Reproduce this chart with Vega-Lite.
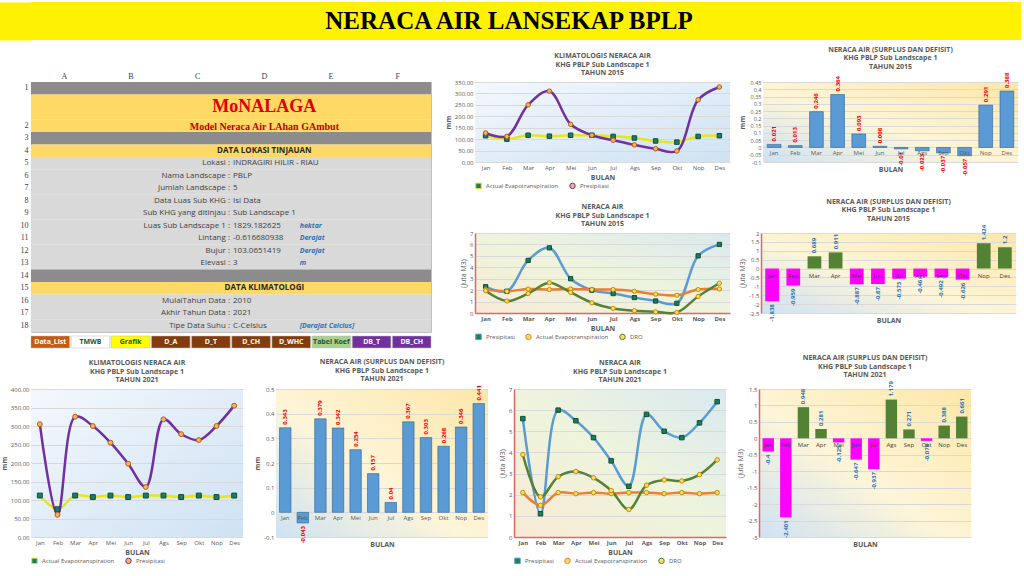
{
"$schema": "https://vega.github.io/schema/vega-lite/v6.json",
"background": "white",
"padding": {"left": 0, "right": 0, "top": 2, "bottom": 2},
"spacing": 5,
"resolve": {"scale": {"color": "independent", "fill": "independent", "stroke": "independent", "shape": "independent"}},
"vconcat": [
  {
    "width": 990, "height": 38,
    "view": {"fill": "#fff200", "stroke": null},
    "data": {"values": [{"judul": "NERACA AIR LANSEKAP BPLP"}]},
    "mark": {"type": "text", "font": "Liberation Serif", "fontSize": 25, "fontWeight": "bold", "color": "#000000", "dx": -17},
    "encoding": {
      "text": {"field": "judul"},
      "y": {"datum": 0.5, "type": "quantitative", "scale": {"domain": [0, 1]}, "axis": {"title": null, "labels": false, "ticks": false, "grid": false, "domainColor": "#fff200", "domainWidth": 35, "offset": 17, "domainCap": "butt", "minExtent": 0}}
    }
  },
  {
    "spacing": 12,
    "resolve": {"scale": {"color": "independent", "fill": "independent", "stroke": "independent", "shape": "independent"}},
    "hconcat": [
      {
        "spacing": 2,
        "resolve": {"scale": {"color": "independent", "fill": "independent", "stroke": "independent", "shape": "independent"}},
        "vconcat": [
          {
            "width": 400, "height": 250,
            "data": {"name": "sheet"},
            "view": {"fill": "#f2f2f2", "stroke": "#bfbfbf"},
            "encoding": {"y": {"field": "row", "type": "ordinal", "sort": null, "scale": {"paddingInner": 0, "paddingOuter": 0}, "axis": {"title": null, "labelExpr": "datum.label == '2a' || datum.label == '2b' ? '' : datum.label", "labelFont": "Liberation Serif", "labelFontSize": 8, "labelColor": "#404040", "ticks": false, "domain": false, "grid": false, "labelPadding": 3}}},
            "layer": [
              {"mark": {"type": "rect"}, "encoding": {"color": {"field": "kind", "type": "nominal", "scale": {"domain": ["sep", "title", "title2", "header", "data"], "range": ["#8c8c8c", "#ffd966", "#ffd966", "#ffd966", "#d9d9d9"]}, "legend": null}}},
              {"transform": [{"filter": "datum.kind == 'data'"}], "mark": {"type": "text", "align": "right", "dx": -1, "fontSize": 8, "color": "#404040"},
               "encoding": {"x": {"datum": "D", "type": "nominal", "bandPosition": 0, "scale": {"type": "band", "domain": ["A", "B", "C", "D", "E", "F"], "paddingInner": 0, "paddingOuter": 0}, "axis": {"orient": "top", "title": null, "labelAngle": 0, "labelFont": "Liberation Serif", "labelFontSize": 8, "labelColor": "#404040", "ticks": false, "domain": false, "grid": false, "labelPadding": 2}}, "text": {"field": "label"}}},
              {"transform": [{"filter": "datum.kind == 'data'"}], "mark": {"type": "text", "align": "left", "dx": 2, "fontSize": 8, "color": "#404040"},
               "encoding": {"x": {"datum": "D", "type": "nominal", "bandPosition": 0}, "text": {"field": "value"}}},
              {"transform": [{"filter": "datum.unit"}], "mark": {"type": "text", "align": "left", "dx": 2, "fontSize": 7, "fontStyle": "italic", "fontWeight": "bold", "color": "#2e75b6"},
               "encoding": {"x": {"datum": "E", "type": "nominal", "bandPosition": 0}, "text": {"field": "unit"}}},
              {"transform": [{"filter": "datum.kind == 'header'"}], "mark": {"type": "text", "align": "center", "fontSize": 8, "fontWeight": "bold", "color": "#262626"},
               "encoding": {"x": {"datum": "D", "type": "nominal", "bandPosition": 0.5}, "text": {"field": "label"}}},
              {"transform": [{"filter": "datum.kind == 'title' && datum.label"}], "mark": {"type": "text", "align": "center", "baseline": "middle", "dy": 6, "font": "Liberation Serif", "fontSize": 18, "fontWeight": "bold", "color": "#e00000"},
               "encoding": {"x": {"datum": "D", "type": "nominal", "bandPosition": 0.5}, "text": {"field": "label"}}},
              {"transform": [{"filter": "datum.kind == 'title2'"}], "mark": {"type": "text", "align": "center", "dy": 1, "font": "Liberation Serif", "fontSize": 10, "fontWeight": "bold", "color": "#c00000"},
               "encoding": {"x": {"datum": "D", "type": "nominal", "bandPosition": 0.5}, "text": {"field": "label"}}}
            ]
          },
          {
            "width": 400, "height": 12,
            "data": {"name": "tabs"},
            "view": {"fill": "#f2f2f2", "stroke": null},
            "encoding": {"x": {"field": "tab", "type": "nominal", "sort": null, "scale": {"paddingInner": 0.04, "paddingOuter": 0}, "axis": null}},
            "layer": [
              {"mark": {"type": "bar", "stroke": "#bfbfbf", "strokeWidth": 0.5}, "encoding": {"color": {"field": "tab", "type": "nominal", "scale": {"domain": ["Data_List", "TMWB", "Grafik", "D_A", "D_T", "D_CH", "D_WHC", "Tabel Koef", "DB_T", "DB_CH"], "range": ["#c55a11", "#ffffff", "#ffff00", "#843c0c", "#843c0c", "#843c0c", "#843c0c", "#a9d08e", "#7030a0", "#7030a0"]}, "legend": null}}},
              {"mark": {"type": "text", "fontSize": 7, "fontWeight": "bold"}, "encoding": {"text": {"field": "tab"}, "color": {"condition": {"test": "datum.tab == 'TMWB' || datum.tab == 'Grafik' || datum.tab == 'Tabel Koef'", "value": "#1e5631"}, "value": "#ffffff"}}}
            ]
          }
        ]
      },
      {
        "spacing": 6,
        "resolve": {"scale": {"color": "independent", "fill": "independent", "stroke": "independent", "shape": "independent"}},
        "vconcat": [
          {
            "spacing": 8,
            "resolve": {"scale": {"color": "independent", "fill": "independent", "stroke": "independent", "shape": "independent"}},
            "hconcat": [
              {
                "width": 255, "height": 80,
                "title": {"text": ["KLIMATOLOGIS NERACA AIR", "KHG PBLP Sub Landscape 1", "TAHUN 2015"]},
                "view": {"fill": {"gradient": "linear", "x1": 0, "y1": 0, "x2": 1, "y2": 1, "stops": [{"offset": 0, "color": "#f4f8fd"}, {"offset": 1, "color": "#cfe2f3"}]}, "stroke": null},
                "data": {"name": "klim"},
                "transform": [{"filter": "datum.tahun == 2015"}, {"fold": ["Actual Evapotranspiration", "Presipitasi"], "as": ["seri", "nilai"]}],
                "encoding": {
                  "x": {"field": "bulan", "type": "ordinal", "sort": ["Jan", "Feb", "Mar", "Apr", "Mei", "Jun", "Jul", "Ags", "Sep", "Okt", "Nop", "Des"], "scale": {"type": "point", "padding": 0.5}, "axis": {"title": "BULAN", "labelAngle": 0, "grid": false, "ticks": false, "domain": false}},
                  "y": {"field": "nilai", "type": "quantitative", "scale": {"domain": [0, 350]}, "axis": {"title": "mm", "format": ".2f", "values": [0, 50, 100, 150, 200, 250, 300, 350], "ticks": false, "domain": false}}
                },
                "layer": [
                  {"mark": {"type": "line", "interpolate": "catmull-rom", "strokeWidth": 2.5}, "encoding": {"color": {"field": "seri", "type": "nominal", "scale": {"domain": ["Actual Evapotranspiration", "Presipitasi"], "range": ["#e6e619", "#7030a0"]}, "legend": {"orient": "bottom", "direction": "horizontal", "title": null}}}},
                  {"mark": {"type": "point", "filled": true, "size": 20, "strokeWidth": 1, "opacity": 1}, "encoding": {
                    "shape": {"field": "seri", "type": "nominal", "scale": {"domain": ["Actual Evapotranspiration", "Presipitasi"], "range": ["square", "circle"]}, "legend": null},
                    "fill": {"field": "seri", "type": "nominal", "scale": {"domain": ["Actual Evapotranspiration", "Presipitasi"], "range": ["#1e7b6b", "#f6b26b"]}, "legend": null},
                    "stroke": {"field": "seri", "type": "nominal", "scale": {"domain": ["Actual Evapotranspiration", "Presipitasi"], "range": ["#0f4d40", "#b45f06"]}, "legend": null}}}
                ]
              },
              {
                "width": 255, "height": 80,
                "title": {"text": ["NERACA AIR (SURPLUS DAN DEFISIT)", "KHG PBLP Sub Landscape 1", "TAHUN 2015"]},
                "view": {"fill": {"gradient": "linear", "x1": 0, "y1": 1, "x2": 1, "y2": 0, "stops": [{"offset": 0, "color": "#cfe2f3"}, {"offset": 0.45, "color": "#fdf5d8"}, {"offset": 1, "color": "#fde7a8"}]}, "stroke": null},
                "data": {"name": "smm"},
                "transform": [{"filter": "datum.tahun == 2015"}],
                "encoding": {
                  "x": {"field": "bulan", "type": "ordinal", "sort": ["Jan", "Feb", "Mar", "Apr", "Mei", "Jun", "Jul", "Ags", "Sep", "Okt", "Nop", "Des"], "scale": {"paddingInner": 0.35, "paddingOuter": 0.2}, "axis": {"title": "BULAN", "labels": false, "ticks": false, "domain": false}},
                  "y": {"field": "v", "type": "quantitative", "scale": {"domain": [-0.1, 0.45], "nice": false}, "axis": {"title": "mm", "format": "~g", "values": [-0.1, -0.05, 0, 0.05, 0.1, 0.15, 0.2, 0.25, 0.3, 0.35, 0.4, 0.45], "labelOverlap": false, "labelFontSize": 5.5, "ticks": false, "domain": false, "grid": true}}
                },
                "layer": [
                  {"mark": {"type": "bar", "color": "#5b9bd5", "stroke": "#2f5f8f", "strokeWidth": 0.6}},
                  {"mark": {"type": "rule", "color": "#c00000", "strokeWidth": 1}, "encoding": {"y": {"datum": 0}}},
                  {"transform": [{"filter": "datum.v >= 0"}], "mark": {"type": "text", "angle": 270, "align": "left", "baseline": "middle", "dx": 3, "fontSize": 6, "fontWeight": "bold", "color": "#ff0000"}, "encoding": {"text": {"field": "v", "type": "quantitative", "format": "~g"}}},
                  {"transform": [{"filter": "datum.v < 0"}], "mark": {"type": "text", "angle": 270, "align": "right", "baseline": "middle", "dx": -3, "fontSize": 6, "fontWeight": "bold", "color": "#ff0000"}, "encoding": {"text": {"field": "v", "type": "quantitative", "format": "~g"}}},
                  {"mark": {"type": "text", "baseline": "top", "dy": 3, "fontSize": 6, "color": "#595959"}, "encoding": {"y": {"datum": 0}, "text": {"field": "bulan"}}}
                ]
              }
            ]
          },
          {
            "spacing": 8,
            "resolve": {"scale": {"color": "independent", "fill": "independent", "stroke": "independent", "shape": "independent"}},
            "hconcat": [
              {
                "width": 255, "height": 80,
                "title": {"text": ["NERACA AIR", "KHG PBLP Sub Landscape 1", "TAHUN 2015"]},
                "view": {"fill": {"gradient": "linear", "x1": 0, "y1": 1, "x2": 1, "y2": 0, "stops": [{"offset": 0, "color": "#f8ead6"}, {"offset": 0.5, "color": "#eef4dc"}, {"offset": 1, "color": "#d9e9f0"}]}, "stroke": null},
                "data": {"name": "neraca"},
                "transform": [{"filter": "datum.tahun == 2015"}, {"fold": ["Presipitasi", "Actual Evapotranspiration", "DRO"], "as": ["seri", "nilai"]}],
                "encoding": {
                  "x": {"field": "bulan", "type": "ordinal", "sort": ["Jan", "Feb", "Mar", "Apr", "Mei", "Jun", "Jul", "Ags", "Sep", "Okt", "Nop", "Des"], "scale": {"type": "point", "padding": 0.5}, "axis": {"title": "BULAN", "labelAngle": 0, "grid": false, "ticks": false, "domainColor": "#e06666", "domainWidth": 1.5, "labelFontWeight": "bold"}},
                  "y": {"field": "nilai", "type": "quantitative", "scale": {"domain": [0, 7]}, "axis": {"title": "(Juta M3)", "titleFontWeight": "normal", "values": [0, 1, 2, 3, 4, 5, 6, 7], "ticks": false, "domainColor": "#e06666", "domainWidth": 1.5}}
                },
                "layer": [
                  {"mark": {"type": "line", "interpolate": "catmull-rom", "strokeWidth": 2.5}, "encoding": {"color": {"field": "seri", "type": "nominal", "scale": {"domain": ["Presipitasi", "Actual Evapotranspiration", "DRO"], "range": ["#5b9bd5", "#ed7d31", "#548235"]}, "legend": {"orient": "bottom", "direction": "horizontal", "title": null}}}},
                  {"mark": {"type": "point", "filled": true, "size": 18, "strokeWidth": 1, "opacity": 1}, "encoding": {
                    "shape": {"field": "seri", "type": "nominal", "scale": {"domain": ["Presipitasi", "Actual Evapotranspiration", "DRO"], "range": ["square", "circle", "circle"]}, "legend": null},
                    "fill": {"field": "seri", "type": "nominal", "scale": {"domain": ["Presipitasi", "Actual Evapotranspiration", "DRO"], "range": ["#1e7b5b", "#ffd966", "#ffd966"]}, "legend": null},
                    "stroke": {"field": "seri", "type": "nominal", "scale": {"domain": ["Presipitasi", "Actual Evapotranspiration", "DRO"], "range": ["#0f5132", "#bf9000", "#bf9000"]}, "legend": null}}}
                ]
              },
              {
                "width": 255, "height": 80,
                "title": {"text": ["NERACA AIR (SURPLUS DAN DEFISIT)", "KHG PBLP Sub Landscape 1", "TAHUN 2015"]},
                "view": {"fill": {"gradient": "linear", "x1": 0, "y1": 1, "x2": 1, "y2": 0, "stops": [{"offset": 0, "color": "#cfe2f3"}, {"offset": 0.45, "color": "#fdf5d8"}, {"offset": 1, "color": "#fde7a8"}]}, "stroke": null},
                "data": {"name": "sm3"},
                "transform": [{"filter": "datum.tahun == 2015"}],
                "encoding": {
                  "x": {"field": "bulan", "type": "ordinal", "sort": ["Jan", "Feb", "Mar", "Apr", "Mei", "Jun", "Jul", "Ags", "Sep", "Okt", "Nop", "Des"], "scale": {"paddingInner": 0.35, "paddingOuter": 0.2}, "axis": {"title": "BULAN", "labels": false, "ticks": false, "domain": false}},
                  "y": {"field": "v", "type": "quantitative", "scale": {"domain": [-2.5, 2], "nice": false}, "axis": {"title": "(Juta M3)", "titleFontWeight": "normal", "format": "~g", "values": [-2.5, -2, -1.5, -1, -0.5, 0, 0.5, 1, 1.5, 2], "labelOverlap": false, "ticks": false, "grid": true, "domainColor": "#e06666", "domainWidth": 1.5}}
                },
                "layer": [
                  {"mark": {"type": "bar"}, "encoding": {"color": {"condition": {"test": "datum.v >= 0", "value": "#548235"}, "value": "#ff00ff"}}},
                  {"mark": {"type": "rule", "color": "#c0504d", "strokeWidth": 1.2}, "encoding": {"y": {"datum": 0}}},
                  {"transform": [{"filter": "datum.v >= 0"}], "mark": {"type": "text", "angle": 270, "align": "left", "baseline": "middle", "dx": 3, "fontSize": 6, "fontWeight": "bold", "color": "#2e75b6"}, "encoding": {"text": {"field": "v", "type": "quantitative", "format": "~g"}}},
                  {"transform": [{"filter": "datum.v < 0"}], "mark": {"type": "text", "angle": 270, "align": "right", "baseline": "middle", "dx": -3, "fontSize": 6, "fontWeight": "bold", "color": "#2e75b6"}, "encoding": {"text": {"field": "v", "type": "quantitative", "format": "~g"}}},
                  {"mark": {"type": "text", "baseline": "top", "dy": 4, "fontSize": 6, "color": "#404040"}, "encoding": {"y": {"datum": 0}, "text": {"field": "bulan"}}}
                ]
              }
            ]
          }
        ]
      }
    ]
  },
  {
    "spacing": 10,
    "resolve": {"scale": {"color": "independent", "fill": "independent", "stroke": "independent", "shape": "independent"}},
    "hconcat": [
      {
        "width": 212, "height": 148,
        "title": {"text": ["KLIMATOLOGIS NERACA AIR", "KHG PBLP Sub Landscape 1", "TAHUN 2021"]},
        "view": {"fill": {"gradient": "linear", "x1": 0, "y1": 0, "x2": 1, "y2": 1, "stops": [{"offset": 0, "color": "#f4f8fd"}, {"offset": 1, "color": "#cfe2f3"}]}, "stroke": null},
        "data": {"name": "klim"},
        "transform": [{"filter": "datum.tahun == 2021"}, {"fold": ["Actual Evapotranspiration", "Presipitasi"], "as": ["seri", "nilai"]}],
        "encoding": {
          "x": {"field": "bulan", "type": "ordinal", "sort": ["Jan", "Feb", "Mar", "Apr", "Mei", "Jun", "Jul", "Ags", "Sep", "Okt", "Nop", "Des"], "scale": {"type": "point", "padding": 0.5}, "axis": {"title": "BULAN", "labelAngle": 0, "grid": false, "ticks": false, "domain": false}},
          "y": {"field": "nilai", "type": "quantitative", "scale": {"domain": [0, 400]}, "axis": {"title": "mm", "format": ".2f", "values": [0, 50, 100, 150, 200, 250, 300, 350, 400], "ticks": false, "domain": false}}
        },
        "layer": [
          {"mark": {"type": "line", "interpolate": "catmull-rom", "strokeWidth": 2.5}, "encoding": {"color": {"field": "seri", "type": "nominal", "scale": {"domain": ["Actual Evapotranspiration", "Presipitasi"], "range": ["#e6e619", "#7030a0"]}, "legend": {"orient": "bottom", "direction": "horizontal", "title": null}}}},
          {"mark": {"type": "point", "filled": true, "size": 24, "strokeWidth": 1, "opacity": 1}, "encoding": {
            "shape": {"field": "seri", "type": "nominal", "scale": {"domain": ["Actual Evapotranspiration", "Presipitasi"], "range": ["square", "circle"]}, "legend": null},
            "fill": {"field": "seri", "type": "nominal", "scale": {"domain": ["Actual Evapotranspiration", "Presipitasi"], "range": ["#1e7b6b", "#f6b26b"]}, "legend": null},
            "stroke": {"field": "seri", "type": "nominal", "scale": {"domain": ["Actual Evapotranspiration", "Presipitasi"], "range": ["#0f4d40", "#b45f06"]}, "legend": null}}}
        ]
      },
      {
        "width": 212, "height": 148,
        "title": {"text": ["NERACA AIR (SURPLUS DAN DEFISIT)", "KHG PBLP Sub Landscape 1", "TAHUN 2021"]},
        "view": {"fill": {"gradient": "linear", "x1": 0, "y1": 1, "x2": 1, "y2": 0, "stops": [{"offset": 0, "color": "#cfe2f3"}, {"offset": 0.45, "color": "#fdf5d8"}, {"offset": 1, "color": "#fde7a8"}]}, "stroke": null},
        "data": {"name": "smm"},
        "transform": [{"filter": "datum.tahun == 2021"}],
        "encoding": {
          "x": {"field": "bulan", "type": "ordinal", "sort": ["Jan", "Feb", "Mar", "Apr", "Mei", "Jun", "Jul", "Ags", "Sep", "Okt", "Nop", "Des"], "scale": {"paddingInner": 0.35, "paddingOuter": 0.2}, "axis": {"title": "BULAN", "labels": false, "ticks": false, "domain": false}},
          "y": {"field": "v", "type": "quantitative", "scale": {"domain": [-0.1, 0.5], "nice": false}, "axis": {"title": "mm", "format": "~g", "values": [-0.1, 0, 0.1, 0.2, 0.3, 0.4, 0.5], "labelOverlap": false, "ticks": false, "domain": false, "grid": true}}
        },
        "layer": [
          {"mark": {"type": "bar", "color": "#5b9bd5", "stroke": "#2f5f8f", "strokeWidth": 0.6}},
          {"mark": {"type": "rule", "color": "#c00000", "strokeWidth": 1}, "encoding": {"y": {"datum": 0}}},
          {"transform": [{"filter": "datum.v >= 0"}], "mark": {"type": "text", "angle": 270, "align": "left", "baseline": "middle", "dx": 3, "fontSize": 6, "fontWeight": "bold", "color": "#ff0000"}, "encoding": {"text": {"field": "v", "type": "quantitative", "format": "~g"}}},
          {"transform": [{"filter": "datum.v < 0"}], "mark": {"type": "text", "angle": 270, "align": "right", "baseline": "middle", "dx": -3, "fontSize": 6, "fontWeight": "bold", "color": "#ff0000"}, "encoding": {"text": {"field": "v", "type": "quantitative", "format": "~g"}}},
          {"mark": {"type": "text", "baseline": "top", "dy": 3, "fontSize": 6, "color": "#595959"}, "encoding": {"y": {"datum": 0}, "text": {"field": "bulan"}}}
        ]
      },
      {
        "width": 212, "height": 148,
        "title": {"text": ["NERACA AIR", "KHG PBLP Sub Landscape 1", "TAHUN 2021"]},
        "view": {"fill": {"gradient": "linear", "x1": 0, "y1": 1, "x2": 1, "y2": 0, "stops": [{"offset": 0, "color": "#f8ead6"}, {"offset": 0.5, "color": "#eef4dc"}, {"offset": 1, "color": "#d9e9f0"}]}, "stroke": null},
        "data": {"name": "neraca"},
        "transform": [{"filter": "datum.tahun == 2021"}, {"fold": ["Presipitasi", "Actual Evapotranspiration", "DRO"], "as": ["seri", "nilai"]}],
        "encoding": {
          "x": {"field": "bulan", "type": "ordinal", "sort": ["Jan", "Feb", "Mar", "Apr", "Mei", "Jun", "Jul", "Ags", "Sep", "Okt", "Nop", "Des"], "scale": {"type": "point", "padding": 0.5}, "axis": {"title": "BULAN", "labelAngle": 0, "grid": false, "ticks": false, "domainColor": "#e06666", "domainWidth": 1.5, "labelFontWeight": "bold"}},
          "y": {"field": "nilai", "type": "quantitative", "scale": {"domain": [0, 7]}, "axis": {"title": "(Juta M3)", "titleFontWeight": "normal", "values": [0, 1, 2, 3, 4, 5, 6, 7], "ticks": false, "domainColor": "#e06666", "domainWidth": 1.5}}
        },
        "layer": [
          {"mark": {"type": "line", "interpolate": "catmull-rom", "strokeWidth": 2.5}, "encoding": {"color": {"field": "seri", "type": "nominal", "scale": {"domain": ["Presipitasi", "Actual Evapotranspiration", "DRO"], "range": ["#5b9bd5", "#ed7d31", "#548235"]}, "legend": {"orient": "bottom", "direction": "horizontal", "title": null}}}},
          {"mark": {"type": "point", "filled": true, "size": 20, "strokeWidth": 1, "opacity": 1}, "encoding": {
            "shape": {"field": "seri", "type": "nominal", "scale": {"domain": ["Presipitasi", "Actual Evapotranspiration", "DRO"], "range": ["square", "circle", "circle"]}, "legend": null},
            "fill": {"field": "seri", "type": "nominal", "scale": {"domain": ["Presipitasi", "Actual Evapotranspiration", "DRO"], "range": ["#1e7b5b", "#ffd966", "#ffd966"]}, "legend": null},
            "stroke": {"field": "seri", "type": "nominal", "scale": {"domain": ["Presipitasi", "Actual Evapotranspiration", "DRO"], "range": ["#0f5132", "#bf9000", "#bf9000"]}, "legend": null}}}
        ]
      },
      {
        "width": 212, "height": 148,
        "title": {"text": ["NERACA AIR (SURPLUS DAN DEFISIT)", "KHG PBLP Sub Landscape 1", "TAHUN 2021"]},
        "view": {"fill": {"gradient": "linear", "x1": 0, "y1": 1, "x2": 1, "y2": 0, "stops": [{"offset": 0, "color": "#cfe2f3"}, {"offset": 0.45, "color": "#fdf5d8"}, {"offset": 1, "color": "#fde7a8"}]}, "stroke": null},
        "data": {"name": "sm3"},
        "transform": [{"filter": "datum.tahun == 2021"}],
        "encoding": {
          "x": {"field": "bulan", "type": "ordinal", "sort": ["Jan", "Feb", "Mar", "Apr", "Mei", "Jun", "Jul", "Ags", "Sep", "Okt", "Nop", "Des"], "scale": {"paddingInner": 0.35, "paddingOuter": 0.2}, "axis": {"title": "BULAN", "labels": false, "ticks": false, "domain": false}},
          "y": {"field": "v", "type": "quantitative", "scale": {"domain": [-3, 1.5], "nice": false}, "axis": {"title": "(Juta M3)", "titleFontWeight": "normal", "format": "~g", "values": [-3, -2.5, -2, -1.5, -1, -0.5, 0, 0.5, 1, 1.5], "labelOverlap": false, "ticks": false, "grid": true, "domainColor": "#e06666", "domainWidth": 1.5}}
        },
        "layer": [
          {"mark": {"type": "bar"}, "encoding": {"color": {"condition": {"test": "datum.v >= 0", "value": "#548235"}, "value": "#ff00ff"}}},
          {"mark": {"type": "rule", "color": "#c0504d", "strokeWidth": 1.2}, "encoding": {"y": {"datum": 0}}},
          {"transform": [{"filter": "datum.v >= 0"}], "mark": {"type": "text", "angle": 270, "align": "left", "baseline": "middle", "dx": 3, "fontSize": 6, "fontWeight": "bold", "color": "#2e75b6"}, "encoding": {"text": {"field": "v", "type": "quantitative", "format": "~g"}}},
          {"transform": [{"filter": "datum.v < 0"}], "mark": {"type": "text", "angle": 270, "align": "right", "baseline": "middle", "dx": -3, "fontSize": 6, "fontWeight": "bold", "color": "#2e75b6"}, "encoding": {"text": {"field": "v", "type": "quantitative", "format": "~g"}}},
          {"mark": {"type": "text", "baseline": "top", "dy": 4, "fontSize": 6, "color": "#404040"}, "encoding": {"y": {"datum": 0}, "text": {"field": "bulan"}}}
        ]
      }
    ]
  }
],
"datasets": {
  "klim": [
    {"tahun": 2015, "bulan": "Jan", "Actual Evapotranspiration": 115, "Presipitasi": 127},
    {"tahun": 2015, "bulan": "Feb", "Actual Evapotranspiration": 100, "Presipitasi": 112},
    {"tahun": 2015, "bulan": "Mar", "Actual Evapotranspiration": 117, "Presipitasi": 250},
    {"tahun": 2015, "bulan": "Apr", "Actual Evapotranspiration": 113, "Presipitasi": 310},
    {"tahun": 2015, "bulan": "Mei", "Actual Evapotranspiration": 117, "Presipitasi": 165},
    {"tahun": 2015, "bulan": "Jun", "Actual Evapotranspiration": 117, "Presipitasi": 117},
    {"tahun": 2015, "bulan": "Jul", "Actual Evapotranspiration": 112, "Presipitasi": 95},
    {"tahun": 2015, "bulan": "Ags", "Actual Evapotranspiration": 105, "Presipitasi": 75},
    {"tahun": 2015, "bulan": "Sep", "Actual Evapotranspiration": 92, "Presipitasi": 58},
    {"tahun": 2015, "bulan": "Okt", "Actual Evapotranspiration": 87, "Presipitasi": 48},
    {"tahun": 2015, "bulan": "Nop", "Actual Evapotranspiration": 112, "Presipitasi": 272},
    {"tahun": 2015, "bulan": "Des", "Actual Evapotranspiration": 115, "Presipitasi": 328},
    {"tahun": 2021, "bulan": "Jan", "Actual Evapotranspiration": 112, "Presipitasi": 305},
    {"tahun": 2021, "bulan": "Feb", "Actual Evapotranspiration": 75, "Presipitasi": 60},
    {"tahun": 2021, "bulan": "Mar", "Actual Evapotranspiration": 112, "Presipitasi": 325},
    {"tahun": 2021, "bulan": "Apr", "Actual Evapotranspiration": 108, "Presipitasi": 300},
    {"tahun": 2021, "bulan": "Mei", "Actual Evapotranspiration": 112, "Presipitasi": 255},
    {"tahun": 2021, "bulan": "Jun", "Actual Evapotranspiration": 108, "Presipitasi": 198},
    {"tahun": 2021, "bulan": "Jul", "Actual Evapotranspiration": 112, "Presipitasi": 135},
    {"tahun": 2021, "bulan": "Ags", "Actual Evapotranspiration": 112, "Presipitasi": 318},
    {"tahun": 2021, "bulan": "Sep", "Actual Evapotranspiration": 108, "Presipitasi": 278},
    {"tahun": 2021, "bulan": "Okt", "Actual Evapotranspiration": 112, "Presipitasi": 262},
    {"tahun": 2021, "bulan": "Nop", "Actual Evapotranspiration": 108, "Presipitasi": 300},
    {"tahun": 2021, "bulan": "Des", "Actual Evapotranspiration": 112, "Presipitasi": 355}
  ],
  "neraca": [
    {"tahun": 2015, "bulan": "Jan", "Presipitasi": 2.3, "Actual Evapotranspiration": 2.05, "DRO": 1.95},
    {"tahun": 2015, "bulan": "Feb", "Presipitasi": 1.9, "Actual Evapotranspiration": 1.9, "DRO": 1.05},
    {"tahun": 2015, "bulan": "Mar", "Presipitasi": 4.6, "Actual Evapotranspiration": 2.1, "DRO": 1.7},
    {"tahun": 2015, "bulan": "Apr", "Presipitasi": 5.7, "Actual Evapotranspiration": 2.05, "DRO": 2.65},
    {"tahun": 2015, "bulan": "Mei", "Presipitasi": 3.0, "Actual Evapotranspiration": 2.1, "DRO": 1.8},
    {"tahun": 2015, "bulan": "Jun", "Presipitasi": 2.0, "Actual Evapotranspiration": 2.05, "DRO": 0.9},
    {"tahun": 2015, "bulan": "Jul", "Presipitasi": 1.7, "Actual Evapotranspiration": 2.05, "DRO": 0.4},
    {"tahun": 2015, "bulan": "Ags", "Presipitasi": 1.35, "Actual Evapotranspiration": 1.9, "DRO": 0.2},
    {"tahun": 2015, "bulan": "Sep", "Presipitasi": 1.05, "Actual Evapotranspiration": 1.65, "DRO": 0.1},
    {"tahun": 2015, "bulan": "Okt", "Presipitasi": 0.85, "Actual Evapotranspiration": 1.55, "DRO": 0.05},
    {"tahun": 2015, "bulan": "Nop", "Presipitasi": 5.0, "Actual Evapotranspiration": 2.05, "DRO": 1.45},
    {"tahun": 2015, "bulan": "Des", "Presipitasi": 6.0, "Actual Evapotranspiration": 2.1, "DRO": 2.6},
    {"tahun": 2021, "bulan": "Jan", "Presipitasi": 5.6, "Actual Evapotranspiration": 2.1, "DRO": 3.9},
    {"tahun": 2021, "bulan": "Feb", "Presipitasi": 1.1, "Actual Evapotranspiration": 1.5, "DRO": 1.9},
    {"tahun": 2021, "bulan": "Mar", "Presipitasi": 6.0, "Actual Evapotranspiration": 2.1, "DRO": 2.85},
    {"tahun": 2021, "bulan": "Apr", "Presipitasi": 5.5, "Actual Evapotranspiration": 2.05, "DRO": 3.1},
    {"tahun": 2021, "bulan": "Mei", "Presipitasi": 4.7, "Actual Evapotranspiration": 2.1, "DRO": 2.8},
    {"tahun": 2021, "bulan": "Jun", "Presipitasi": 3.6, "Actual Evapotranspiration": 2.05, "DRO": 2.2},
    {"tahun": 2021, "bulan": "Jul", "Presipitasi": 2.4, "Actual Evapotranspiration": 2.1, "DRO": 1.3},
    {"tahun": 2021, "bulan": "Ags", "Presipitasi": 5.8, "Actual Evapotranspiration": 2.1, "DRO": 2.45},
    {"tahun": 2021, "bulan": "Sep", "Presipitasi": 5.0, "Actual Evapotranspiration": 2.05, "DRO": 2.7},
    {"tahun": 2021, "bulan": "Okt", "Presipitasi": 4.7, "Actual Evapotranspiration": 2.1, "DRO": 2.65},
    {"tahun": 2021, "bulan": "Nop", "Presipitasi": 5.4, "Actual Evapotranspiration": 2.05, "DRO": 2.95},
    {"tahun": 2021, "bulan": "Des", "Presipitasi": 6.4, "Actual Evapotranspiration": 2.1, "DRO": 3.65}
  ],
  "smm": [
    {"tahun": 2015, "bulan": "Jan", "v": 0.021}, {"tahun": 2015, "bulan": "Feb", "v": 0.013},
    {"tahun": 2015, "bulan": "Mar", "v": 0.246}, {"tahun": 2015, "bulan": "Apr", "v": 0.364},
    {"tahun": 2015, "bulan": "Mei", "v": 0.093}, {"tahun": 2015, "bulan": "Jun", "v": 0.008},
    {"tahun": 2015, "bulan": "Jul", "v": -0.01}, {"tahun": 2015, "bulan": "Ags", "v": -0.023},
    {"tahun": 2015, "bulan": "Sep", "v": -0.037}, {"tahun": 2015, "bulan": "Okt", "v": -0.057},
    {"tahun": 2015, "bulan": "Nop", "v": 0.291}, {"tahun": 2015, "bulan": "Des", "v": 0.388},
    {"tahun": 2021, "bulan": "Jan", "v": 0.343}, {"tahun": 2021, "bulan": "Feb", "v": -0.043},
    {"tahun": 2021, "bulan": "Mar", "v": 0.379}, {"tahun": 2021, "bulan": "Apr", "v": 0.342},
    {"tahun": 2021, "bulan": "Mei", "v": 0.254}, {"tahun": 2021, "bulan": "Jun", "v": 0.157},
    {"tahun": 2021, "bulan": "Jul", "v": 0.04}, {"tahun": 2021, "bulan": "Ags", "v": 0.367},
    {"tahun": 2021, "bulan": "Sep", "v": 0.303}, {"tahun": 2021, "bulan": "Okt", "v": 0.268},
    {"tahun": 2021, "bulan": "Nop", "v": 0.346}, {"tahun": 2021, "bulan": "Des", "v": 0.441}
  ],
  "sm3": [
    {"tahun": 2015, "bulan": "Jan", "v": -1.838}, {"tahun": 2015, "bulan": "Feb", "v": -0.959},
    {"tahun": 2015, "bulan": "Mar", "v": 0.689}, {"tahun": 2015, "bulan": "Apr", "v": 0.911},
    {"tahun": 2015, "bulan": "Mei", "v": -0.887}, {"tahun": 2015, "bulan": "Jun", "v": -0.87},
    {"tahun": 2015, "bulan": "Jul", "v": -0.573}, {"tahun": 2015, "bulan": "Ags", "v": -0.46},
    {"tahun": 2015, "bulan": "Sep", "v": -0.492}, {"tahun": 2015, "bulan": "Okt", "v": -0.626},
    {"tahun": 2015, "bulan": "Nop", "v": 1.424}, {"tahun": 2015, "bulan": "Des", "v": 1.2},
    {"tahun": 2021, "bulan": "Jan", "v": -0.4}, {"tahun": 2021, "bulan": "Feb", "v": -2.401},
    {"tahun": 2021, "bulan": "Mar", "v": 0.948}, {"tahun": 2021, "bulan": "Apr", "v": 0.281},
    {"tahun": 2021, "bulan": "Mei", "v": -0.125}, {"tahun": 2021, "bulan": "Jun", "v": -0.647},
    {"tahun": 2021, "bulan": "Jul", "v": -0.937}, {"tahun": 2021, "bulan": "Ags", "v": 1.179},
    {"tahun": 2021, "bulan": "Sep", "v": 0.271}, {"tahun": 2021, "bulan": "Okt", "v": -0.078},
    {"tahun": 2021, "bulan": "Nop", "v": 0.388}, {"tahun": 2021, "bulan": "Des", "v": 0.661}
  ],
  "sheet": [
    {"row": "1", "kind": "sep"},
    {"row": "2a", "kind": "title", "label": "MoNALAGA"},
    {"row": "2b", "kind": "title"},
    {"row": "2", "kind": "title2", "label": "Model Neraca Air LAhan GAmbut"},
    {"row": "3", "kind": "sep"},
    {"row": "4", "kind": "header", "label": "DATA LOKASI TINJAUAN"},
    {"row": "5", "kind": "data", "label": "Lokasi :", "value": "INDRAGIRI HILIR - RIAU"},
    {"row": "6", "kind": "data", "label": "Nama Landscape :", "value": "PBLP"},
    {"row": "7", "kind": "data", "label": "Jumlah Landscape :", "value": "5"},
    {"row": "8", "kind": "data", "label": "Data Luas Sub KHG :", "value": "Isi Data"},
    {"row": "9", "kind": "data", "label": "Sub KHG yang ditinjau :", "value": "Sub Landscape 1"},
    {"row": "10", "kind": "data", "label": "Luas Sub Landscape 1 :", "value": "1829.182625", "unit": "hektar"},
    {"row": "11", "kind": "data", "label": "Lintang :", "value": "-0.616680938", "unit": "Derajat"},
    {"row": "12", "kind": "data", "label": "Bujur :", "value": "103.0651419", "unit": "Derajat"},
    {"row": "13", "kind": "data", "label": "Elevasi :", "value": "3", "unit": "m"},
    {"row": "14", "kind": "sep"},
    {"row": "15", "kind": "header", "label": "DATA KLIMATOLOGI"},
    {"row": "16", "kind": "data", "label": "MulaiTahun Data :", "value": "2010"},
    {"row": "17", "kind": "data", "label": "Akhir Tahun Data :", "value": "2021"},
    {"row": "18", "kind": "data", "label": "Tipe Data Suhu :", "value": "C-Celsius", "unit": "[Derajat Celcius]"}
  ],
  "tabs": [
    {"tab": "Data_List"}, {"tab": "TMWB"}, {"tab": "Grafik"}, {"tab": "D_A"}, {"tab": "D_T"},
    {"tab": "D_CH"}, {"tab": "D_WHC"}, {"tab": "Tabel Koef"}, {"tab": "DB_T"}, {"tab": "DB_CH"}
  ]
},
"config": {
  "font": "Open Sans",
  "view": {"stroke": null},
  "locale": {"number": {"decimal": ".", "thousands": ",", "grouping": [3], "currency": ["$", ""], "minus": "-"}},
  "axis": {"labelFontSize": 6, "titleFontSize": 7, "labelColor": "#595959", "titleColor": "#595959", "titleFontWeight": "bold", "gridColor": "#d9d9d9", "domainColor": "#bfbfbf", "tickColor": "#bfbfbf", "labelPadding": 2, "titlePadding": 3, "labelOverlap": false},
  "title": {"fontSize": 7, "fontWeight": "bold", "color": "#595959", "lineHeight": 8.5, "offset": 3, "anchor": "middle"},
  "legend": {"labelFontSize": 6, "labelColor": "#595959", "symbolStrokeWidth": 1, "symbolSize": 30, "padding": 0, "offset": 2, "columnPadding": 8}
}
}
